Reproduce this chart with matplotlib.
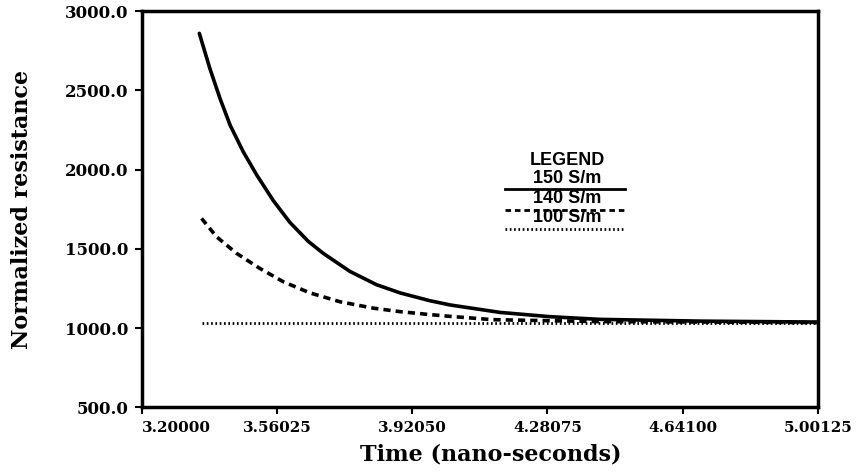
import matplotlib
matplotlib.use("Agg")
import matplotlib.pyplot as plt
from matplotlib.lines import Line2D

# conductivity runs, time in ns vs normalized resistance
t_150 = [3.353, 3.381, 3.408, 3.435, 3.470, 3.506, 3.550, 3.594, 3.643, 3.683,
         3.754, 3.825, 3.888, 3.967, 4.021, 4.154, 4.287, 4.420, 4.687, 5.00125]
r_150 = [2860, 2639, 2450, 2281, 2113, 1966, 1805, 1668, 1548, 1472,
         1358, 1274, 1222, 1173, 1146, 1099, 1072, 1055, 1044, 1038]

t_140 = [3.359, 3.399, 3.452, 3.514, 3.577, 3.648, 3.728, 3.816, 3.887, 3.959,
         4.021, 4.135, 4.420, 5.00125]
r_140 = [1692, 1576, 1472, 1377, 1292, 1222, 1166, 1126, 1104, 1087,
         1074, 1053, 1041, 1035]

t_100 = [3.36, 5.00125]
r_100 = [1030, 1030]

labels = ["150 S/m", "140 S/m", "100 S/m"]
xticks = [3.20000, 3.56025, 3.92050, 4.28075, 4.64100, 5.00125]
yticks = [500.0, 1000.0, 1500.0, 2000.0, 2500.0, 3000.0]

serif = "DejaVu Serif"
solid = dict(lw=2.6)
dashed = dict(lw=2.6, dashes=(2.0, 1.4))
dotted = dict(lw=2.0, dashes=(0.6, 0.95))

fig = plt.figure(figsize=(8.6, 4.75), dpi=100)
ax = fig.add_axes([0.165, 0.1425, 0.786, 0.834])

ax.plot(t_150, r_150, color="black", solid_capstyle="round",
        solid_joinstyle="round", **solid)
ax.plot(t_140, r_140, color="black", **dashed)
ax.plot(t_100, r_100, color="black", **dotted)

ax.set_xlim(3.2, 5.00125)
ax.set_ylim(500, 3000)
ax.set_xticks(xticks)
ax.set_yticks(yticks)
ax.set_xticklabels(["%.5f" % v for v in xticks], fontfamily=serif,
                   fontweight="bold", fontsize=11)
ax.set_yticklabels(["%.1f" % v for v in yticks], fontfamily=serif,
                   fontweight="bold", fontsize=12)
ax.get_xticklabels()[0].set_ha("left")
ax.tick_params(direction="out", length=5, width=1.5)
ax.tick_params(axis="x", pad=5)
ax.tick_params(axis="y", pad=4.5)
for s in ax.spines.values():
    s.set_linewidth(2.5)

ax.set_xlabel("Time (nano-seconds)", fontfamily=serif, fontweight="bold",
              fontsize=16, va="center")
ax.xaxis.set_label_coords(0.516, -0.12)
ax.set_ylabel("Normalized resistance", fontfamily=serif, fontweight="bold",
              fontsize=16, ha="center", va="center")
ax.yaxis.set_label_coords(-0.178, 0.5)

# hand-made legend: title, then each label sitting on its line sample
x0, x1 = 0.537, 0.714
xc = 0.629
leg_font = dict(transform=ax.transAxes, ha="center", va="center",
                fontsize=13, fontweight="bold", family="Liberation Sans")
ax.text(xc, 0.624, "LEGEND", **leg_font)
text_y = [0.577, 0.526, 0.479]
line_y = [0.551, 0.498, 0.450]
styles = [dict(lw=2.0), dict(lw=2.0, dashes=(2.0, 1.4)), dotted]
for lab, ty, ly, st in zip(labels, text_y, line_y, styles):
    ax.text(xc, ty, lab, **leg_font)
    ax.add_line(Line2D([x0, x1], [ly, ly], transform=ax.transAxes,
                       color="black", **st))

fig.savefig("out.png", dpi=100)
